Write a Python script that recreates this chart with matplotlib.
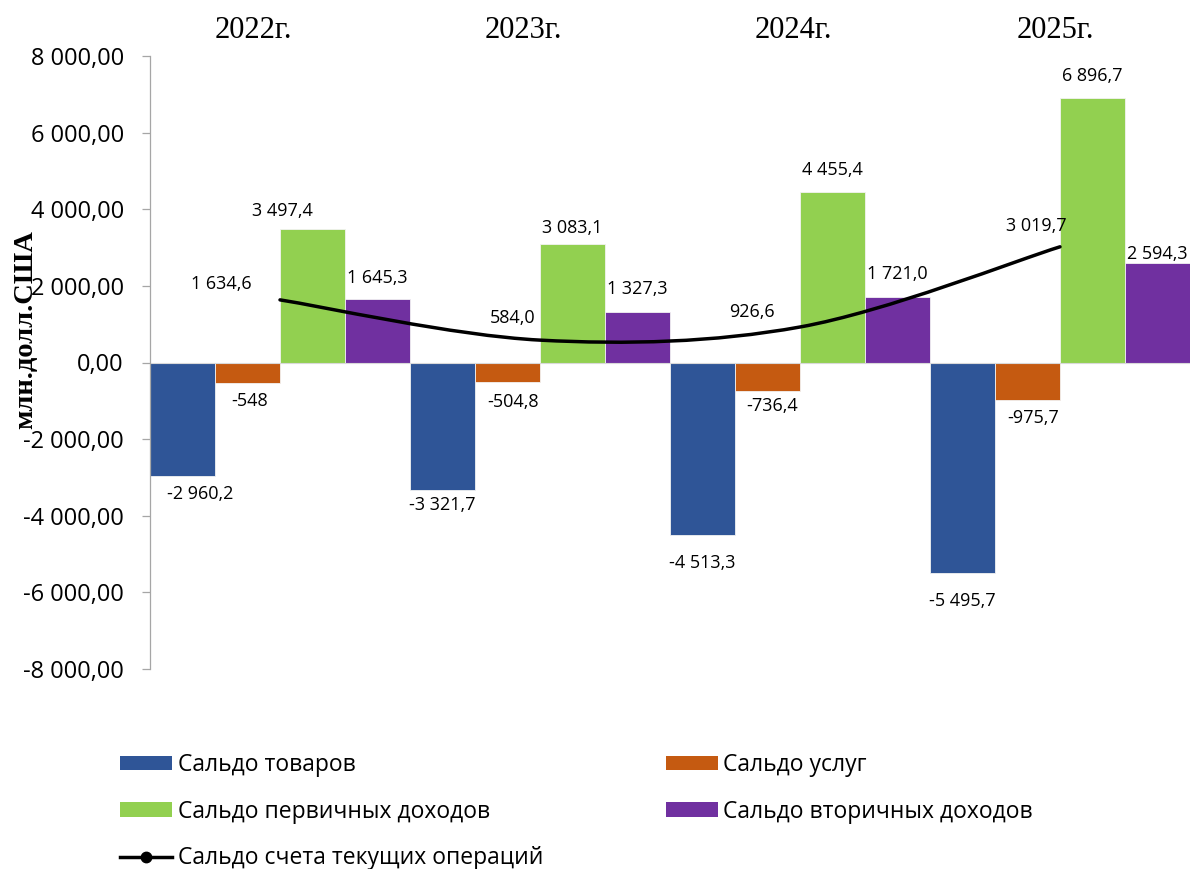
import numpy as np
import matplotlib
matplotlib.use('Agg')
import matplotlib.pyplot as plt
from matplotlib.path import Path
from matplotlib.patches import PathPatch, Patch
from matplotlib.lines import Line2D
from matplotlib.ticker import FuncFormatter, MultipleLocator

plt.rcParams['font.family'] = ['Open Sans', 'DejaVu Sans']

# ---------------- data ----------------
years = ['2022г.', '2023г.', '2024г.', '2025г.']
series_names = ['Сальдо товаров', 'Сальдо услуг', 'Сальдо первичных доходов',
                'Сальдо вторичных доходов']
line_name = 'Сальдо счета текущих операций'

goods = [-2960.2, -3321.7, -4513.3, -5495.7]
services = [-548.0, -504.8, -736.4, -975.7]
primary = [3497.4, 3083.1, 4455.4, 6896.7]
secondary = [1645.3, 1327.3, 1721.0, 2594.3]
current = [1634.6, 584.0, 926.6, 3019.7]

goods_labels = ['-2 960,2', '-3 321,7', '-4 513,3', '-5 495,7']
services_labels = ['-548', '-504,8', '-736,4', '-975,7']
primary_labels = ['3 497,4', '3 083,1', '4 455,4', '6 896,7']
secondary_labels = ['1 645,3', '1 327,3', '1 721,0', '2 594,3']
current_labels = ['1 634,6', '584,0', '926,6', '3 019,7']

# ---------------- styles / label placement (pixels) ----------------
colors = ['#2F5597', '#C55A11', '#92D050', '#7030A0']
bar_offsets = [-0.375, -0.125, 0.125, 0.375]
bar_width = 0.25
label_offsets = [
    [(18, -17), (0, -14), (0, -26), (0, -27)],
    [(2.5, -16), (5, -19), (5, -14), (5.5, -17)],
    [(-30, 19), (0, 18), (0, 23), (0, 24)],
    [(0, 23), (0, 24), (0, 24), (0, 11)],
]
line_label_offsets = [(-59, 17), (-27.5, 24), (-48, 16.5), (-24, 22)]
year_dx = [-27, -17, -7, -5]

W, H = 1191, 869
fig = plt.figure(figsize=(W / 100, H / 100), dpi=100)
ax = fig.add_axes([150 / W, 1 - 669 / H, 1040 / W, 613 / H])

x = np.arange(len(years))
all_series = [goods, services, primary, secondary]
all_labels = [goods_labels, services_labels, primary_labels, secondary_labels]

bar_handles = []
for s, (vals, col, off) in enumerate(zip(all_series, colors, bar_offsets)):
    ax.bar(x + off, vals, width=bar_width, color=col, edgecolor='#f2f2f2',
           linewidth=0.6, zorder=2)
    bar_handles.append(Patch(facecolor=col, edgecolor='none', label=series_names[s]))
    for i, (v, lab) in enumerate(zip(vals, all_labels[s])):
        dx, dy = label_offsets[s][i]
        ax.annotate(lab, xy=(x[i] + off, v), xytext=(dx, dy - 6.4),
                    textcoords='offset pixels', ha='center', va='baseline',
                    fontsize=13, color='black', zorder=5)

ax.axhline(0, color='#d9d9d9', lw=0.8, zorder=2.5)

# smoothed line (Excel-style Bezier through the data points)
P = np.column_stack([x.astype(float), np.array(current, dtype=float)])
n = len(P)
verts = [P[0]]
codes = [Path.MOVETO]
for i in range(n - 1):
    p0 = P[i - 1] if i > 0 else P[i]
    p1 = P[i]
    p2 = P[i + 1]
    p3 = P[i + 2] if i + 2 < n else P[i + 1]
    c1 = p1 + (p2 - p0) / 6.0
    c2 = p2 - (p3 - p1) / 6.0
    verts += [c1, c2, p2]
    codes += [Path.CURVE4] * 3
ax.add_patch(PathPatch(Path(verts, codes), fill=False, edgecolor='black',
                       lw=2.5, capstyle='round', zorder=4))
for i, (v, lab) in enumerate(zip(current, current_labels)):
    dx, dy = line_label_offsets[i]
    ax.annotate(lab, xy=(x[i], v), xytext=(dx, dy - 6.4),
                textcoords='offset pixels', ha='center', va='baseline',
                fontsize=13, color='black', zorder=5)

# axes
ax.set_xlim(-0.5, 3.5)
ax.set_ylim(-8000, 8000)
ax.yaxis.set_major_locator(MultipleLocator(2000))
ax.yaxis.set_major_formatter(FuncFormatter(
    lambda v, p: f"{v:,.2f}".replace(',', ' ').replace('.', ',')))
ax.set_xticks([])
for sp in ['top', 'right', 'bottom']:
    ax.spines[sp].set_visible(False)
ax.spines['left'].set_color('#a6a6a6')
ax.spines['left'].set_linewidth(0.9)
ax.tick_params(axis='y', direction='out', length=5.8, width=0.9,
               color='#a6a6a6', labelsize=17, pad=13, labelcolor='black')

for i, yr in enumerate(years):
    ax.annotate(yr, xy=(x[i], 1), xycoords=('data', 'axes fraction'),
                xytext=(year_dx[i], 18), textcoords='offset pixels',
                ha='center', va='baseline', fontsize=22,
                family=['Liberation Serif', 'DejaVu Serif'])

fig.text(26 / W, 1 - 330 / H, 'млн.долл.США', rotation=90, ha='center',
         va='center', fontsize=20.5, fontweight='bold',
         family=['Liberation Serif', 'DejaVu Serif'])

line_handle = Line2D([], [], color='black', lw=2.5, marker='o', ms=7.5,
                     label=line_name)
handles = [bar_handles[0], bar_handles[2], line_handle,
           bar_handles[1], bar_handles[3]]
fig.legend(handles=handles, labels=[h.get_label() for h in handles],
           ncol=2, loc='upper left', bbox_to_anchor=(120 / W, 1 - 753 / H),
           frameon=False, fontsize=16.5, handlelength=2.27, handleheight=0.61,
           handletextpad=0.26, columnspacing=5.33, labelspacing=0.99,
           borderpad=0, borderaxespad=0)

fig.savefig('out.png', dpi=100)
